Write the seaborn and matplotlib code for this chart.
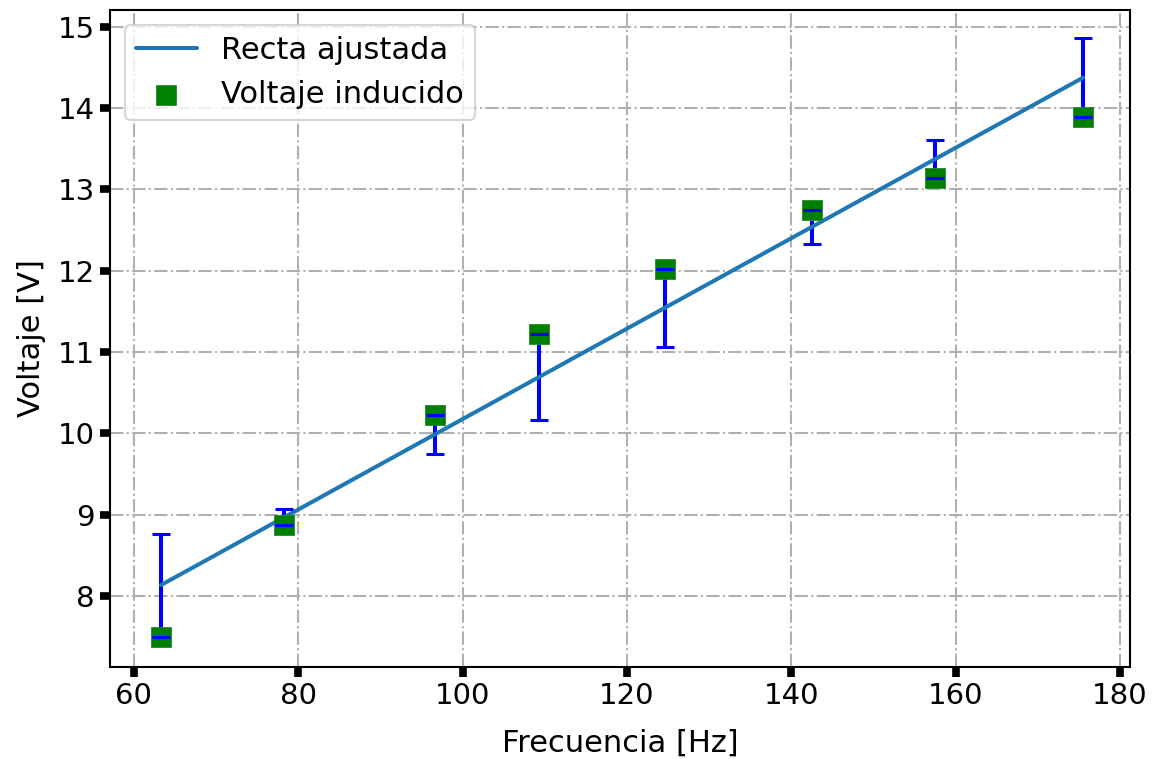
import numpy as np
import matplotlib
matplotlib.use("Agg")
import matplotlib.pyplot as plt
import seaborn as sns
import pandas as pd

# Data
frecuencia = [63.3, 78.3, 96.6, 109.3, 124.6, 142.5, 157.5, 175.5]   # Hz
voltaje = [7.50, 8.87, 10.22, 11.22, 12.02, 12.75, 13.14, 13.89]    # V
x_ticks = [60, 80, 100, 120, 140, 160, 180]
y_ticks = [8, 9, 10, 11, 12, 13, 14, 15]
label_fit = "Recta ajustada"
label_pts = "Voltaje inducido"

sns.set_theme(style="ticks")
plt.rcParams["font.family"] = ["DejaVu Sans"]
plt.rcParams.update({"text.color": "black", "axes.labelcolor": "black",
                     "xtick.color": "black", "ytick.color": "black"})

# Least-squares line through the measured points (as in the original)
pendiente, ordenada = np.polyfit(frecuencia, voltaje, 1)
ajuste = [pendiente * f + ordenada for f in frecuencia]
residuo = [abs(v - a) for v, a in zip(voltaje, ajuste)]

df = pd.DataFrame({"f": frecuencia, "v": voltaje, "fit": ajuste})

fig = plt.figure(figsize=(11.6, 7.59), dpi=100)
ax = fig.add_axes([0.0948, 0.1212, 0.974 - 0.0948, 0.987 - 0.1212])

# error bars centred on the fitted value
eb = ax.errorbar(frecuencia, ajuste, yerr=residuo, fmt="none", ecolor="#0000ff",
                 elinewidth=2.9, capsize=6.8, capthick=2.2, zorder=2.5,
                 label="_nolegend_")
for cap in eb[1]:
    cap.set_zorder(4)

sns.lineplot(data=df, x="f", y="fit", ax=ax, color="#1f77b4", linewidth=2.9,
             label=label_fit, zorder=2.8)
sns.scatterplot(data=df, x="f", y="v", ax=ax, marker="s", s=225,
                color="#008000", edgecolor="#2a8a2a", linewidth=0.6,
                label=label_pts, zorder=3)

ax.set_xlim(57.1, 181.2)
ax.set_ylim(7.125, 15.21)
ax.set_xticks(x_ticks)
ax.set_yticks(y_ticks)

ax.grid(True, color="#b0b0b0", linestyle="-.", linewidth=1.5)
ax.set_axisbelow(True)
for s in ax.spines.values():
    s.set_visible(True)
    s.set_color("black")
    s.set_linewidth(1.5)

ax.tick_params(axis="both", direction="out", length=7, width=5.5,
               labelsize=21, color="black", labelcolor="black", pad=4)
ax.set_xlabel("Frecuencia [Hz]", fontsize=22, labelpad=13, color="black")
ax.set_ylabel("Voltaje [V]", fontsize=22, labelpad=8, color="black")

leg = ax.legend(loc="upper left", fontsize=22, frameon=True, framealpha=0.8,
                edgecolor="#cccccc", fancybox=True, borderpad=0.35,
                handlelength=2.0, markerscale=1.0, borderaxespad=0.5)
for t in leg.get_texts():
    t.set_color("black")
leg.get_frame().set_linewidth(1.5)

fig.savefig("out.png", dpi=100, facecolor="white")
